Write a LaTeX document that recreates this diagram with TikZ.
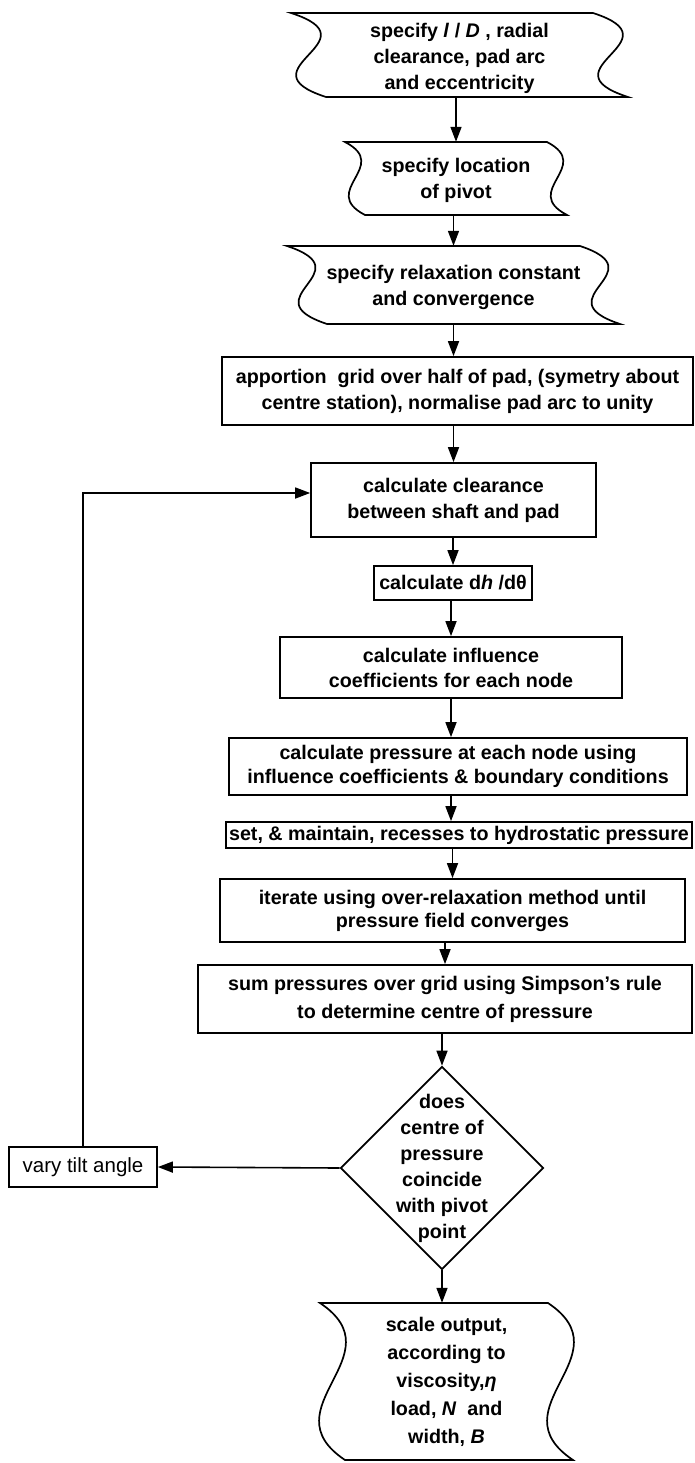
\documentclass[tikz,border=0pt]{standalone}
\usepackage{fontspec}
\setmainfont{Liberation Sans}
\usetikzlibrary{arrows.meta,shapes.geometric,calc}
\begin{document}
\begin{tikzpicture}[x=1pt,y=-1pt,
  every node/.style={font=\fontsize{19.7}{26}\selectfont\bfseries, align=center, inner sep=0pt},
  box/.style={draw, line width=1.7pt},
  arr/.style={line width=1.6pt, -{Triangle[length=15pt,width=11pt]}},
  shp/.style={line width=1.7pt, line join=miter},
]
\useasboundingbox (0,0) rectangle (694,1463);

% wavy input shapes (outlines)
\draw[shp] (291,13) -- (593,13) .. controls (679.7,41) and (541.3,69) .. (628,97)
  -- (326,97) .. controls (239.3,69) and (377.7,41) .. cycle;
\draw[shp] (345,142) -- (547,142) .. controls (593.7,166.3) and (520.3,190.7) .. (567,215)
  -- (365,215) .. controls (318.3,190.7) and (391.7,166.3) .. cycle;
\draw[shp] (287,246) -- (580,246) .. controls (658.3,272) and (541.7,298) .. (620,324)
  -- (327,324) .. controls (248.7,298) and (365.3,272) .. cycle;
\draw[shp] (320,1303) -- (548,1303) .. controls (626.3,1355.3) and (494.7,1407.7) .. (573,1460)
  -- (345,1460) .. controls (266.7,1407.7) and (398.3,1355.3) .. cycle;

% nodes
\node (A) at (459.5,55) [minimum height=84pt] {\rule{0pt}{22pt}specify \textit{l} / \textit{D} , radial\\clearance, pad arc\\and eccentricity};
\node (B) at (456,178.5) [minimum height=73pt] {\rule{0pt}{18pt}specify location\\of pivot};
\node (C) at (453.5,285) [minimum height=78pt] {\rule{0pt}{20pt}specify relaxation constant\\and convergence};
\node (D) at (457.5,391) [box, minimum width=471pt, minimum height=68pt] {apportion\ \ grid over half of pad, (symetry about\\centre station), normalise pad arc to unity};
\node (E) at (453.5,500) [box, minimum width=285pt, minimum height=74pt] {calculate clearance\\between shaft and pad};
\node (F) at (453,583) [box, minimum width=158pt, minimum height=34pt] {calculate d\textit{h} /dθ};
\node (G) at (451,667.5) [box, minimum width=342pt, minimum height=61pt, font=\fontsize{19.7}{25}\selectfont\bfseries] {calculate influence\\coefficients for each node};
\node (H) at (458,766.5) [box, minimum width=458pt, minimum height=57pt, font=\fontsize{19.7}{24}\selectfont\bfseries] {calculate pressure at each node using\\influence coefficients \& boundary conditions};
\node (I) at (459,835) [box, minimum width=466pt, minimum height=26pt] {set, \& maintain, recesses to hydrostatic pressure};
\node (J) at (452.5,910.5) [box, minimum width=465pt, minimum height=63pt, font=\fontsize{19.7}{23}\selectfont\bfseries] {iterate using over-relaxation method until\\pressure field converges};
\node (K) at (445,999) [box, minimum width=494pt, minimum height=68pt, font=\fontsize{19.7}{28}\selectfont\bfseries] {sum pressures over grid using Simpson's rule\\to determine centre of pressure};
\node (dia) at (442,1168) [diamond, draw, line width=1.7pt, minimum width=203pt, minimum height=203pt] {};
\node (diatext) at (dia) {does\\centre of\\pressure\\coincide\\with pivot\\point};
\node (vary) at (83,1167) [box, minimum width=148pt, minimum height=40pt, font=\fontsize{20.5}{26}\selectfont] {vary tilt angle};
\node (L) at (446.5,1381.5) [minimum height=157pt, font=\fontsize{19.7}{28}\selectfont\bfseries] {scale output,\\according to\\viscosity,\textit{η}\\load, \textit{N}\ \ and\\width, \textit{B}};
\coordinate (Ein) at ([yshift=7pt]E.west);

% connectors
\draw[arr] (A.south -| B) -- (B.north);
\draw[arr] (B.south -| C) -- (C.north);
\draw[arr] (C.south) -- (C.south |- D.north);
\draw[arr] (D.south -| E) -- (E.north);
\draw[arr] (E.south -| F) -- (F.north);
\draw[arr] (F.south -| G) -- (G.north);
\draw[arr] (G.south) -- (G.south |- H.north);
\draw[arr] (H.south -| G) -- (I.north -| G);
\draw[arr] (I.south -| J) -- (J.north);
\draw[arr] (J.south -| K) -- (K.north);
\draw[arr] (K.south -| dia) -- (dia.north);
\draw[arr] (dia.south) -- (dia.south |- L.north);
\draw[arr] (dia.west) -- (vary.east);
\draw[arr] (vary.north) -- (vary.north |- Ein) -- (Ein);
\end{tikzpicture}
\end{document}
